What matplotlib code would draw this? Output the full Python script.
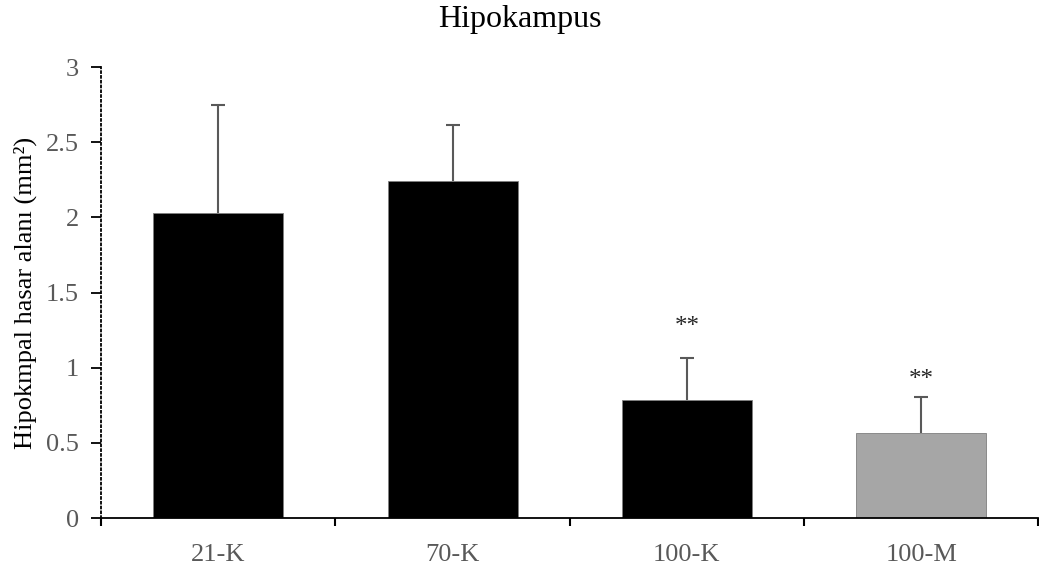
import numpy as np
import matplotlib.pyplot as plt

groups = ["21-K", "70-K", "100-K", "100-M"]
means = [2.03, 2.24, 0.785, 0.566]
errors = [0.72, 0.375, 0.28, 0.24]
colors = ["#000000", "#000000", "#000000", "#a6a6a6"]
stars = ["", "", "**", "**"]
star_y = [0, 0, 1.27, 0.92]

plt.rcParams['font.family'] = ['Liberation Serif', 'DejaVu Serif']

fig = plt.figure(figsize=(10.39, 5.7), dpi=100)
ax = fig.add_axes([0.0972, 0.0912, 0.9023, 0.7912])

x = np.arange(len(groups))
ax.bar(x, means, width=0.555, color=colors, edgecolor="#7f7f7f", linewidth=0.6, zorder=2)
eb = ax.errorbar(x, means, yerr=[np.zeros(len(errors)), errors], fmt="none",
                 ecolor="#595959", elinewidth=1.5, capsize=4.7, capthick=1.5, zorder=1)
# only keep the upper caps
eb[1][0].set_visible(False)
for xi, s, sy in zip(x, stars, star_y):
    if s:
        ax.text(xi, sy, s, ha="center", va="center", fontsize=18, color="#262626")

ax.set_xlim(-0.5, 3.5)
ax.set_ylim(0, 3)
ax.set_yticks([0, 0.5, 1, 1.5, 2, 2.5, 3])
ax.set_yticklabels(["0", "0.5", "1", "1.5", "2", "2.5", "3"])
ax.set_xticks(x)
ax.set_xticklabels(groups)
ax.set_xticks(np.arange(-0.5, 4, 1), minor=True)
ax.tick_params(axis="x", which="major", length=0, pad=19, labelsize=19, labelcolor="#595959")
ax.tick_params(axis="x", which="minor", length=6, width=1.5, color="black")
ax.tick_params(axis="y", length=7, width=1.3, color="black", labelsize=19,
               labelcolor="#595959", pad=9)
for t in ax.yaxis.get_ticklines():
    t.set_linestyle(":")

for s in ["top", "right"]:
    ax.spines[s].set_visible(False)
ax.spines["left"].set_linestyle(":")
ax.spines["left"].set_linewidth(1.3)
ax.spines["bottom"].set_linewidth(1.3)

ax.set_ylabel("Hipokmpal hasar alanı (mm²)", fontsize=19, color="black", labelpad=6)
fig.text(0.5, 1 - 27 / 570, "Hipokampus", ha="center", va="baseline",
         fontsize=23, color="black")

fig.savefig("out.png", dpi=100)
